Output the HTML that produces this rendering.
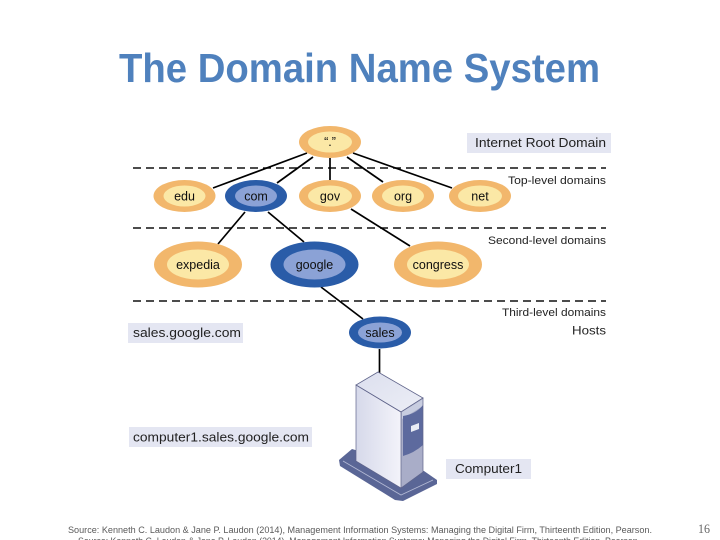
<!DOCTYPE html>
<html><head><meta charset="utf-8"><style>
html,body{margin:0;padding:0;background:#fff;width:720px;height:540px;overflow:hidden}
svg{display:block}
text{font-family:"Liberation Sans",sans-serif}
text.serif{font-family:"Liberation Serif",serif}
</style></head><body>
<svg width="720" height="540" viewBox="0 0 720 540" xmlns="http://www.w3.org/2000/svg">
<defs>
<filter id="b" x="-10%" y="-10%" width="120%" height="120%"><feGaussianBlur stdDeviation="0.35"/></filter>
<filter id="t" x="-5%" y="-20%" width="110%" height="140%"><feGaussianBlur stdDeviation="0.25"/></filter>
<linearGradient id="side" x1="0" y1="0" x2="1" y2="0"><stop offset="0" stop-color="#d6d9ea"/><stop offset="1" stop-color="#f3f3fa"/></linearGradient>
<linearGradient id="top" x1="0" y1="0" x2="1" y2="1"><stop offset="0" stop-color="#dcdfee"/><stop offset="1" stop-color="#eceef6"/></linearGradient>
</defs>
<text x="119" y="82" font-size="41" font-weight="bold" fill="#4f81bd" textLength="481" lengthAdjust="spacingAndGlyphs">The Domain Name System</text>

<g filter="url(#b)">
<g stroke="#111" stroke-width="1.5" stroke-dasharray="8 5" fill="none">
<line x1="133" y1="168" x2="606" y2="168"/>
<line x1="133" y1="228" x2="606" y2="228"/>
<line x1="133" y1="301" x2="606" y2="301"/>
</g>
<g stroke="#000" stroke-width="1.7" fill="none">
<line x1="307" y1="153" x2="213" y2="188"/>
<line x1="313" y1="157" x2="277" y2="183"/>
<line x1="330" y1="158" x2="330" y2="180"/>
<line x1="347" y1="157" x2="383" y2="182"/>
<line x1="353" y1="153" x2="452" y2="188"/>
<line x1="245" y1="212" x2="218" y2="244"/>
<line x1="268" y1="212" x2="304" y2="242"/>
<line x1="351" y1="209" x2="410" y2="246"/>
<line x1="321" y1="287" x2="363" y2="319"/>
<line x1="379.500" y1="349" x2="379.500" y2="373"/>
</g>

<rect x="467" y="133" width="144" height="20" fill="#e4e6f2"/>
<rect x="128" y="323" width="115" height="20" fill="#e4e6f2"/>
<rect x="129" y="427" width="183" height="20" fill="#e4e6f2"/>
<rect x="446" y="459" width="85" height="20" fill="#e4e6f2"/>

<g fill="#f2b76c">
<ellipse cx="330" cy="142" rx="31" ry="16"/>
<ellipse cx="184.500" cy="196" rx="31" ry="16"/>
<ellipse cx="330" cy="196" rx="31" ry="16"/>
<ellipse cx="403" cy="196" rx="31" ry="16"/>
<ellipse cx="480" cy="196" rx="31" ry="16"/>
<ellipse cx="198" cy="264.500" rx="44" ry="23"/>
<ellipse cx="438" cy="264.500" rx="44" ry="23"/>
</g>
<g fill="#fbe8a6">
<ellipse cx="330" cy="142" rx="22" ry="10.500"/>
<ellipse cx="184.500" cy="196" rx="21" ry="10.500"/>
<ellipse cx="330" cy="196" rx="22" ry="10.500"/>
<ellipse cx="403" cy="196" rx="21" ry="10.500"/>
<ellipse cx="480" cy="196" rx="22" ry="10.500"/>
<ellipse cx="198" cy="264.500" rx="31" ry="15"/>
<ellipse cx="438" cy="264.500" rx="31" ry="15"/>
</g>
<g fill="#2a5ca8">
<ellipse cx="256" cy="196" rx="31" ry="16"/>
<ellipse cx="314.500" cy="264.500" rx="44" ry="23"/>
<ellipse cx="380" cy="332.500" rx="31" ry="16"/>
</g>
<g fill="#8ba2d6">
<ellipse cx="256" cy="196" rx="21" ry="10.500"/>
<ellipse cx="314.500" cy="264.500" rx="31" ry="15"/>
<ellipse cx="380" cy="332.500" rx="22" ry="10"/>
</g>

<polygon points="339,460 352,449 424,471 437,480 437,484 403,501 395,500 340,466" fill="#5a6696"/>
<polyline points="343,461 401,495 433,480" fill="none" stroke="#b4bad5" stroke-width="0.8"/>
<polygon points="356,385 401,412 401,488 356,461" fill="url(#side)"/>
<polygon points="378,372 423,398 401,412 356,385" fill="url(#top)" stroke="#5f648a" stroke-width="0.8"/>
<polygon points="401,412 423,398 423,472 401,488" fill="#a9adc8"/>
<polygon points="402,412 423,399 423,406 402,419" fill="#c8cde0"/>
<path d="M403,416 Q416,414 423,405 L423,445 Q414,453 403,456 Z" fill="#5d6a9e"/>
<polygon points="411,426 419,423 419,429 411,432" fill="#e9ecf5"/>
<path d="M356,385 L401,412 L401,488 L356,461 Z M401,412 L423,398 L423,472 L401,488" fill="none" stroke="#5f648a" stroke-width="0.7"/>
</g>

<g filter="url(#t)" fill="#111" font-size="12.500" text-anchor="middle">
<text x="330" y="146">“.”</text>
<text x="184.500" y="200.500">edu</text>
<text x="256" y="200.500">com</text>
<text x="330" y="200.500">gov</text>
<text x="403" y="200.500">org</text>
<text x="480" y="200.500">net</text>
<text x="198" y="269">expedia</text>
<text x="314.500" y="269">google</text>
<text x="438" y="269">congress</text>
<text x="380" y="337">sales</text>
</g>
<g filter="url(#t)" fill="#222" font-size="12">
<text x="475" y="147" textLength="131" lengthAdjust="spacingAndGlyphs" font-size="12.500">Internet Root Domain</text>
<text x="508" y="184" textLength="98" lengthAdjust="spacingAndGlyphs" font-size="11">Top-level domains</text>
<text x="488" y="244" textLength="118" lengthAdjust="spacingAndGlyphs" font-size="11">Second-level domains</text>
<text x="502" y="316" textLength="104" lengthAdjust="spacingAndGlyphs" font-size="11">Third-level domains</text>
<text x="572" y="334.500" textLength="34" lengthAdjust="spacingAndGlyphs">Hosts</text>
<text x="133" y="337" textLength="108" lengthAdjust="spacingAndGlyphs" font-size="12.500">sales.google.com</text>
<text x="133" y="441.500" textLength="176" lengthAdjust="spacingAndGlyphs" font-size="12.500">computer1.sales.google.com</text>
<text x="455" y="473" textLength="67" lengthAdjust="spacingAndGlyphs" font-size="12.500">Computer1</text>
</g>

<g fill="#5a5a5a" font-size="9">
<text x="68" y="533" textLength="584" lengthAdjust="spacingAndGlyphs">Source: Kenneth C. Laudon &amp; Jane P. Laudon (2014), Management Information Systems: Managing the Digital Firm, Thirteenth Edition, Pearson.</text>
<text x="78" y="544" textLength="562" lengthAdjust="spacingAndGlyphs">Source: Kenneth C. Laudon &amp; Jane P. Laudon (2014), Management Information Systems: Managing the Digital Firm, Thirteenth Edition, Pearson.</text>
<text class="serif" x="698" y="533" font-size="13" textLength="12" lengthAdjust="spacingAndGlyphs" fill="#666">16</text>
</g>
</svg>
</body></html>
